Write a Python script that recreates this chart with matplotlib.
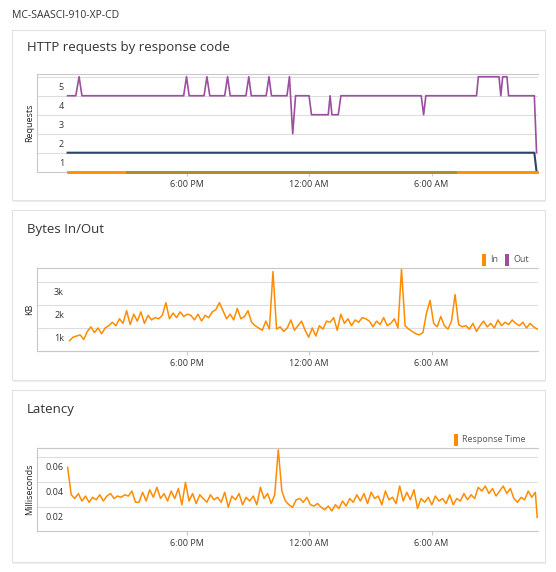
import numpy as np
import matplotlib
matplotlib.use("Agg")
import matplotlib.pyplot as plt
from matplotlib.patches import Rectangle
import matplotlib.transforms as mtrans

plt.rcParams['font.family'] = ['Open Sans', 'DejaVu Sans']

# ---------------- data (time in hours relative to 12:00 AM) ----------------
xtick_hours = [-6, 0, 6]
xtick_labels = ["6:00 PM", "12:00 AM", "6:00 AM"]

req_ok_t = [-11.82, -11.42, -11.26, -11.12, -6.14, -6.0, -5.87, -5.14, -5.0, -4.86,
            -4.13, -3.99, -3.86, -3.09, -2.95, -2.83, -2.10, -1.96, -1.84, -1.08,
            -0.96, -0.80, -0.66, 0.0, 0.12, 0.94, 1.03, 1.12, 1.43, 1.56,
            5.49, 5.61, 5.72, 8.20, 8.29, 9.30, 9.39, 9.48, 9.69, 9.77, 11.03, 11.14]
req_ok_v = [4, 4, 5, 4, 4, 5, 4, 4, 5, 4,
            4, 5, 4, 4, 5, 4, 4, 5, 4, 4,
            5, 2, 4, 4, 3, 3, 4, 3, 3, 4,
            4, 3, 4, 4, 5, 5, 4, 5, 5, 4, 4, 1]
req_other_t = [-11.82, 11.03, 11.14]
req_other_v = [1, 1, 0]
req_err_t = [-11.82, 11.14]
req_err_v = [0, 0]
req_olive_t = [-8.93, 7.15]
req_olive_v = [0, 0]

bytes_in = [0.45, 0.6, 0.65, 0.7, 0.5,
            0.85, 1.05, 0.8, 1.0, 0.75, 1.0,
            1.1, 1.25, 1.1, 1.4, 1.2, 1.75,
            1.15, 1.6, 1.3, 1.7, 1.2, 1.55, 1.35, 1.45, 1.4, 1.55,
            2.1,
            1.4, 1.65, 1.45, 1.7, 1.5, 1.6, 1.55, 1.35, 1.6, 1.3, 1.55, 1.45, 1.7, 1.8,
            2.1,
            1.75, 1.4, 1.6, 1.35, 1.85, 1.4, 1.5, 1.75,
            1.25, 1.1, 1.0, 0.9, 1.3, 0.95,
            3.45,
            0.95, 1.05, 0.85, 1.0, 1.35, 0.9, 1.1,
            1.3, 0.9, 0.6, 1.0, 0.65,
            1.1, 0.95, 1.3, 1.25, 1.45, 0.9, 1.6, 1.2, 1.4, 1.1, 1.35,
            1.25, 1.45, 1.4, 1.3, 1.05, 1.3, 1.15, 1.45, 1.1, 1.2, 1.4,
            1.0, 3.55,
            1.1, 0.95, 0.85, 0.75, 0.7, 0.8, 1.65,
            2.2,
            1.2, 1.05, 1.5, 1.1, 0.95, 1.3, 2.45,
            1.15, 1.05, 1.1, 0.95, 1.2, 0.85, 1.1, 1.3, 1.05, 1.2,
            1.0, 1.35, 1.1, 1.25, 1.15, 1.35, 1.2, 1.1, 1.25, 1.0,
            1.2, 1.05, 0.95]
bytes_t0, bytes_t1 = -11.73, 11.17

latency = [0.052,
           0.03, 0.027, 0.031, 0.025, 0.029, 0.024, 0.028, 0.026, 0.03, 0.025,
           0.029, 0.031, 0.027, 0.029, 0.028, 0.03, 0.029, 0.033, 0.024, 0.024,
           0.032, 0.025, 0.034, 0.028, 0.036, 0.027, 0.031, 0.025, 0.033, 0.027, 0.035, 0.022,
           0.04,
           0.025, 0.031, 0.023, 0.03, 0.027, 0.024, 0.03, 0.026, 0.028, 0.024,
           0.032, 0.02, 0.029, 0.026, 0.031, 0.022, 0.028, 0.025, 0.029, 0.022, 0.036,
           0.027, 0.031, 0.023, 0.03,
           0.066,
           0.033, 0.025, 0.022, 0.02, 0.026, 0.027, 0.024, 0.028,
           0.022, 0.021, 0.023, 0.02, 0.018, 0.021, 0.017, 0.022, 0.019, 0.025, 0.021, 0.027, 0.024,
           0.03, 0.025, 0.031, 0.023, 0.032, 0.027, 0.029, 0.022, 0.033, 0.026,
           0.028, 0.023, 0.037, 0.025, 0.032, 0.026, 0.034, 0.019, 0.027, 0.024,
           0.028, 0.022, 0.029, 0.025, 0.027, 0.023, 0.03, 0.022, 0.027, 0.025, 0.031, 0.026, 0.03, 0.027,
           0.036, 0.033, 0.037, 0.031, 0.035, 0.029, 0.033, 0.037, 0.031, 0.035,
           0.027, 0.024, 0.028, 0.026, 0.033, 0.028, 0.032,
           0.012]
lat_t0, lat_t1 = -11.82, 11.08
lat_tend = 11.17

# ---------------- figure ----------------
W, H = 556, 572
fig = plt.figure(figsize=(W / 100, H / 100), dpi=100)
fig.patch.set_facecolor("white")

def fx(px): return px / W
def fy(py): return 1 - py / H

fig.text(fx(12), fy(15), "MC-SAASCI-910-XP-CD", fontsize=7.5, color="#333333", va="center")

cards = [(30, 200), (210, 380), (390, 562)]
for top, bot in cards:
    fig.patches.append(Rectangle((fx(13), fy(bot + 1.5)), fx(533), (bot - top) / H,
                                 transform=fig.transFigure, facecolor="#eeeeee",
                                 edgecolor="none", zorder=-3))
    fig.patches.append(Rectangle((fx(12), fy(bot)), fx(533), (bot - top) / H,
                                 transform=fig.transFigure, facecolor="white",
                                 edgecolor="#e3e3e3", lw=0.8, zorder=-2))

titles = ["HTTP requests by response code", "Bytes In/Out", "Latency"]
title_y = [48, 229, 409]
for t, y in zip(titles, title_y):
    fig.text(fx(27), fy(y), t, fontsize=9.5, color="#333333", va="center")

XL, XR = 37, 538
XLIM = (-13.32, 11.21)

def make_ax(top, bot, ylim, yticks, ylabels, ylabel):
    ax = fig.add_axes([fx(XL), fy(bot), (XR - XL) / W, (bot - top) / H])
    ax.set_facecolor("none")
    ax.set_xlim(*XLIM)
    ax.set_ylim(*ylim)
    ax.spines["right"].set_visible(False)
    for s in ["top", "left", "bottom"]:
        ax.spines[s].set_color("#c8c8c8")
        ax.spines[s].set_linewidth(0.8)
    ax.set_yticks(yticks)
    ax.set_yticklabels([])
    ax.tick_params(axis="y", length=0)
    ax.grid(axis="y", color="#dddddd", lw=0.8)
    ax.set_xticks(xtick_hours)
    ax.set_xticklabels(xtick_labels, fontsize=6.5, color="#333333")
    ax.tick_params(axis="x", length=3, color="#c8c8c8", pad=3)
    trans = mtrans.blended_transform_factory(ax.transAxes, ax.transData) + \
        mtrans.ScaledTranslation(0, -7.5 / 72, fig.dpi_scale_trans)
    for v, lab in zip(yticks, ylabels):
        ax.text((64 - XL) / (XR - XL), v, lab, transform=trans, ha="right",
                va="center", fontsize=6.5, color="#333333")
    ax.text(-(XL - 30) / (XR - XL), 0.5, ylabel, transform=ax.transAxes, rotation=90,
            ha="center", va="center", fontsize=6.5, color="#222222")
    ax.set_axisbelow(True)
    return ax

ORANGE = "#ff8c00"
PURPLE = "#9b4f9e"
NAVY = "#2c4566"
OLIVE = "#b08a2a"

ax1 = make_ax(73.7, 171.7, (0, 5.16), [1, 2, 3, 4, 5], ["1", "2", "3", "4", "5"], "Requests")
ax1.plot(req_ok_t, req_ok_v, color=PURPLE, lw=1.2)
ax1.plot(req_other_t, req_other_v, color=NAVY, lw=1.5)
ax1.plot(req_err_t, req_err_v, color=ORANGE, lw=2.0, clip_on=False, zorder=4)
ax1.plot(req_olive_t, req_olive_v, color=OLIVE, lw=2.0, clip_on=False, zorder=5)

ax2 = make_ax(267.7, 351, (0, 3.62), [1, 2, 3], ["1k", "2k", "3k"], "KB")
tb = np.linspace(bytes_t0, bytes_t1, len(bytes_in))
ax2.plot(tb, bytes_in, color=ORANGE, lw=1.1)

ax3 = make_ax(447.7, 531, (0.001, 0.0677), [0.02, 0.04, 0.06], ["0.02", "0.04", "0.06"], "Milliseconds")
tl = np.append(np.linspace(lat_t0, lat_t1, len(latency) - 1), lat_tend)
ax3.plot(tl, latency, color=ORANGE, lw=1.1)

def legend_item(xpx, ypx, color, label):
    fig.patches.append(Rectangle((fx(xpx), fy(ypx + 6)), fx(4), 12 / H,
                                 transform=fig.transFigure, facecolor=color, edgecolor="none"))
    fig.text(fx(xpx + 8), fy(ypx), label, fontsize=6.5, color="#555555", va="center")

legend_item(482, 260, ORANGE, "In")
legend_item(505, 260, PURPLE, "Out")
legend_item(454, 440, ORANGE, "Response Time")

fig.savefig("out.png", dpi=100, facecolor="white")
